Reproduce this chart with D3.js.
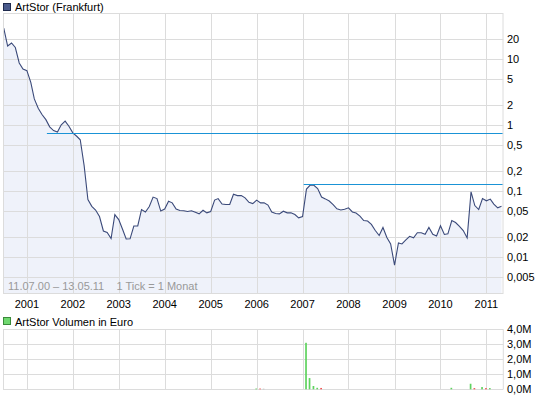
<!DOCTYPE html>
<html>
<head>
<meta charset="utf-8">
<script src="https://cdn.jsdelivr.net/npm/d3@7/dist/d3.min.js"></script>
<style>
  html, body { margin: 0; padding: 0; background: #fff; }
  svg text { font-family: "Liberation Sans", Arial, sans-serif; font-size: 11px; }
</style>
</head>
<body>
<svg id="chart" width="545" height="398"></svg>
<script>
// ---- Data ----
const firstMonth = "2000-07";
const lastMonth = "2011-05";
const rangeStart = "2000-07-11";
const rangeEnd = "2011-05-13";

// monthly closing prices (EUR), Jul 2000 .. May 2011
const prices = [
  29.8, 15.9, 17.7, 15.1, 8.79, 7.13, 6.72, 4.45, 2.50, 1.80, 1.45, 1.21,
  0.94, 0.826, 0.783, 1.01, 1.15, 0.96, 0.764, 0.677, 0.599, 0.242, 0.0738, 0.0582,
  0.0512, 0.0408, 0.0246, 0.0233, 0.0189, 0.0437, 0.0367, 0.0259, 0.0186, 0.0187, 0.0293, 0.0293,
  0.0521, 0.0477, 0.0578, 0.0805, 0.0764, 0.0494, 0.0530, 0.0696, 0.0658, 0.0530, 0.0503, 0.0498,
  0.0486, 0.0498, 0.0472, 0.0448, 0.0508, 0.0464, 0.0486, 0.0725, 0.0764, 0.0633, 0.0620, 0.0620,
  0.0888, 0.0849, 0.0849, 0.0783, 0.0670, 0.0642, 0.0725, 0.0658, 0.0658, 0.0609, 0.0477, 0.0453,
  0.0448, 0.0491, 0.0464, 0.0464, 0.0437, 0.0390, 0.0408, 0.1065, 0.1216, 0.1216, 0.1083, 0.0805,
  0.0756, 0.0701, 0.0620, 0.0534, 0.0512, 0.0526, 0.0553, 0.0479, 0.0461, 0.0415, 0.0355, 0.0348,
  0.0309, 0.0250, 0.0210, 0.0278, 0.0196, 0.0156, 0.00746, 0.0162, 0.0156, 0.0180, 0.0204, 0.0194,
  0.0231, 0.0231, 0.0219, 0.0278, 0.0219, 0.0207, 0.0296, 0.0218, 0.0223, 0.0355, 0.0331, 0.0288,
  0.0250, 0.0193, 0.0966, 0.0599, 0.0521, 0.0764, 0.0706, 0.0751, 0.0631, 0.0553, 0.0584
];

// horizontal trend lines: start date and level
const trendStarts = ["2001-06-09", "2007-01-10"];
const trendLevels = [0.757, 0.129];

// monthly volume (million EUR) and direction
const volMonths = ["2006-01", "2006-02", "2006-03", "2007-02", "2007-03", "2007-04", "2007-05", "2007-06",
                   "2010-04", "2010-09", "2010-10", "2010-12", "2011-01", "2011-02"];
const volValues = [0.05, 0.05, 0.04, 3.1, 0.75, 0.22, 0.1, 0.09, 0.1, 0.37, 0.08, 0.15, 0.08, 0.08];
const volDir    = ["up", "down", "flat", "up", "up", "up", "up", "down", "up", "up", "down", "up", "down", "up"];

const priceTicks = [20, 10, 5, 2, 1, 0.5, 0.2, 0.1, 0.05, 0.02, 0.01, 0.005];
const priceTickLabels = ["20", "10", "5", "2", "1", "0,5", "0,2", "0,1", "0,05", "0,02", "0,01", "0,005"];
const volTicks = [0, 1, 2, 3, 4];
const volTickLabels = ["0,0M", "1,0M", "2,0M", "3,0M", "4,0M"];
const yearTicks = [2001, 2002, 2003, 2004, 2005, 2006, 2007, 2008, 2009, 2010, 2011];

const titlePrice = "ArtStor (Frankfurt)";
const titleVol = "ArtStor Volumen in Euro";
const rangeNote = "11.07.00 – 13.05.11    1 Tick = 1 Monat";

// ---- Layout ----
const svg = d3.select("#chart");
const P = { left: 3, right: 503.3, top: 13.3, bottom: 293.3 };
const V = { top: 329.3, bottom: 389.3 };
const gridColor = "#dcdcdc";

const parseM = d3.timeParse("%Y-%m");
const parseD = d3.timeParse("%Y-%m-%d");
const months = d3.timeMonth.range(parseM(firstMonth), d3.timeMonth.offset(parseM(lastMonth), 1));
const series = months.map((d, i) => ({ date: d, value: prices[i] }));

const x = d3.scaleTime().domain([parseD(rangeStart), parseD(rangeEnd)]).range([5, 503]);
const y = d3.scaleLog().domain([0.01, 10]).range([256.7, 59.3]);
const yv = d3.scaleLinear().domain([0, 4]).range([V.bottom, V.top]);

// clip path
const defs = svg.append("defs");
defs.append("clipPath").attr("id", "clipP").append("rect")
  .attr("x", P.left).attr("y", P.top).attr("width", P.right - P.left).attr("height", P.bottom - P.top);

// ---- Price panel ----
const gP = svg.append("g");
// grid horizontal
gP.selectAll("line.hg").data(priceTicks).enter().append("line")
  .attr("x1", P.left).attr("x2", P.right)
  .attr("y1", d => Math.round(y(d)) + 0.5).attr("y2", d => Math.round(y(d)) + 0.5)
  .attr("stroke", gridColor).attr("stroke-width", 1);
// grid vertical
const yearDates = yearTicks.map(yr => new Date(yr, 0, 1));
gP.selectAll("line.vg").data(yearDates).enter().append("line")
  .attr("x1", d => Math.round(x(d)) + 0.5).attr("x2", d => Math.round(x(d)) + 0.5)
  .attr("y1", P.top).attr("y2", P.bottom)
  .attr("stroke", gridColor).attr("stroke-width", 1);

// area + line
const area = d3.area().x(d => x(d.date)).y0(P.bottom).y1(d => y(d.value));
const line = d3.line().x(d => x(d.date)).y(d => y(d.value));
const gClip = gP.append("g").attr("clip-path", "url(#clipP)");
gClip.append("path").datum(series).attr("d", area).attr("fill", "#eef1fa").attr("fill-opacity", 0.95);
// redraw grid lines faintly over area? (reference grid visible through area)
gClip.selectAll("line.hg2").data(priceTicks).enter().append("line")
  .attr("x1", P.left).attr("x2", P.right)
  .attr("y1", d => Math.round(y(d)) + 0.5).attr("y2", d => Math.round(y(d)) + 0.5)
  .attr("stroke", gridColor).attr("stroke-width", 1);
gClip.selectAll("line.vg2").data(yearDates).enter().append("line")
  .attr("x1", d => Math.round(x(d)) + 0.5).attr("x2", d => Math.round(x(d)) + 0.5)
  .attr("y1", P.top).attr("y2", P.bottom)
  .attr("stroke", gridColor).attr("stroke-width", 1);
gClip.append("path").datum(series).attr("d", line)
  .attr("fill", "none").attr("stroke", "#3b4a7a").attr("stroke-width", 1.1);

// trend lines
gClip.selectAll("line.trend").data(trendLevels).enter().append("line")
  .attr("x1", (d, i) => x(parseD(trendStarts[i]))).attr("x2", P.right)
  .attr("y1", d => Math.round(y(d)) + 0.5).attr("y2", d => Math.round(y(d)) + 0.5)
  .attr("stroke", "#1a93d6").attr("stroke-width", 1);

// frame
gP.append("rect").attr("x", P.left + 0.5).attr("y", Math.round(P.top) + 0.5)
  .attr("width", Math.round(P.right - P.left) - 0.5).attr("height", Math.round(P.bottom - P.top))
  .attr("fill", "none").attr("stroke", gridColor);

// y labels
gP.selectAll("text.yl").data(priceTicks).enter().append("text")
  .attr("x", 507).attr("y", d => y(d) + 4)
  .attr("fill", "#000").text((d, i) => priceTickLabels[i]);

// year labels
svg.selectAll("text.xl").data(yearDates).enter().append("text")
  .attr("x", d => x(d)).attr("y", 308).attr("text-anchor", "middle")
  .attr("fill", "#000").text(d => d3.timeFormat("%Y")(d));

// range note
svg.append("text").attr("x", 8).attr("y", 290).attr("fill", "#999").attr("font-size", "11.5px")
  .attr("xml:space", "preserve").style("white-space", "pre").text(rangeNote);

// legend 1
svg.append("rect").attr("x", 3.5).attr("y", 3.5).attr("width", 7).attr("height", 7)
  .attr("fill", "#4a5b8c").attr("stroke", "#1f2b4e");
svg.append("text").attr("x", 15).attr("y", 11).attr("fill", "#000").text(titlePrice);

// ---- Volume panel ----
const gV = svg.append("g");
gV.selectAll("line.vhg").data(volTicks).enter().append("line")
  .attr("x1", P.left).attr("x2", P.right)
  .attr("y1", d => Math.round(yv(d)) + 0.5).attr("y2", d => Math.round(yv(d)) + 0.5)
  .attr("stroke", gridColor);
gV.selectAll("line.vvg").data(yearDates).enter().append("line")
  .attr("x1", d => Math.round(x(d)) + 0.5).attr("x2", d => Math.round(x(d)) + 0.5)
  .attr("y1", V.top).attr("y2", V.bottom)
  .attr("stroke", gridColor);
gV.append("line").attr("x1", P.left + 0.5).attr("x2", P.left + 0.5).attr("y1", V.top).attr("y2", V.bottom).attr("stroke", gridColor);
gV.append("line").attr("x1", P.right).attr("x2", P.right).attr("y1", V.top).attr("y2", V.bottom).attr("stroke", gridColor);

const dirColor = { up: "#5fd35f", down: "#f05050", flat: "#bbbbbb" };
gV.selectAll("rect.vb").data(volValues).enter().append("rect")
  .attr("x", (d, i) => x(parseM(volMonths[i])) - 1.3)
  .attr("width", 1.7)
  .attr("y", d => yv(d))
  .attr("height", d => V.bottom - yv(d))
  .attr("fill", (d, i) => dirColor[volDir[i]]);

gV.selectAll("text.vl").data(volTicks).enter().append("text")
  .attr("x", 507).attr("y", d => yv(d) + 4)
  .attr("fill", "#000").text((d, i) => volTickLabels[i]);

svg.append("rect").attr("x", 3.5).attr("y", 317.5).attr("width", 7).attr("height", 7)
  .attr("fill", "#6fd86f").attr("stroke", "#3a8a3a");
svg.append("text").attr("x", 15).attr("y", 326).attr("fill", "#000").text(titleVol);
</script>
</body>
</html>
